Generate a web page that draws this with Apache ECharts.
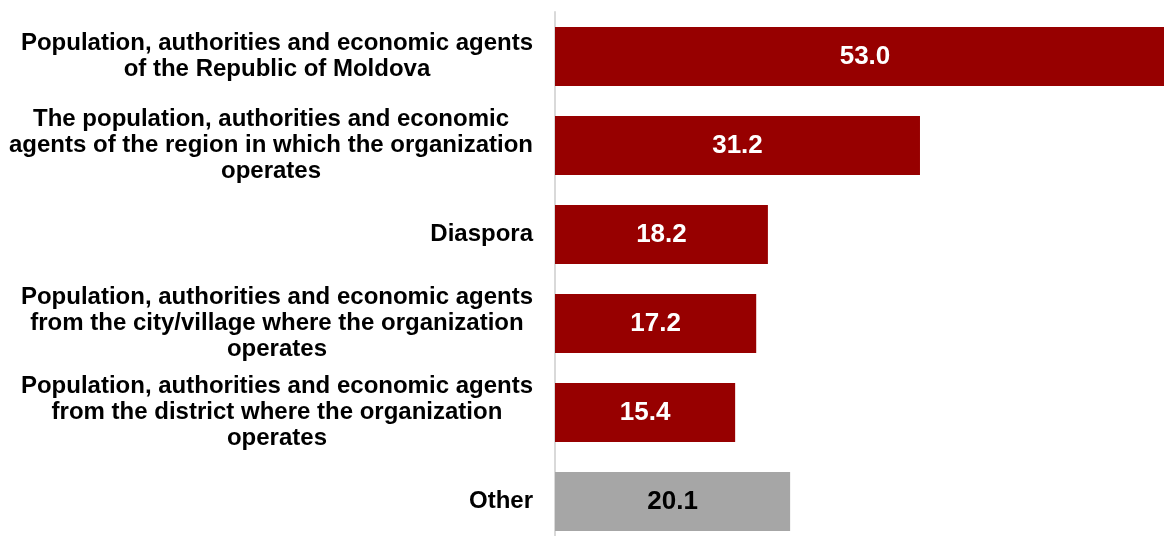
<!DOCTYPE html>
<html>
<head>
<meta charset="utf-8">
<script src="https://cdn.jsdelivr.net/npm/echarts@6/dist/echarts.min.js"></script>
<style>
  html, body { margin: 0; padding: 0; background: #ffffff; overflow: hidden; }
  /* the plot runs slightly past the right and bottom edges of the page */
  #chart { width: 1175px; height: 546px; }
</style>
</head>
<body>
<div id="chart"></div>
<script>
// Beneficiaries of the organizations' activity, % of respondents
const categories = [
  'Population, authorities and economic agents\nof the Republic of Moldova',
  'The population, authorities and economic\nagents of the region in which the organization\noperates',
  'Diaspora',
  'Population, authorities and economic agents\nfrom the city/village where the organization\noperates',
  'Population, authorities and economic agents\nfrom the district where the organization\noperates',
  'Other'
];
const values = [53.0, 31.2, 18.2, 17.2, 15.4, 20.1];
const isOther = [false, false, false, false, false, true];

const RED = '#970000';
const GREY = '#a6a6a6';
const FONT = 'Liberation Sans, Arial, sans-serif';

const chart = echarts.init(document.getElementById('chart'), null, { renderer: 'canvas' });

chart.setOption({
  animation: false,
  backgroundColor: '#ffffff',
  grid: { left: 555, right: 0, top: 12, bottom: 0, containLabel: false },
  xAxis: {
    type: 'value',
    min: 0,
    max: 53,
    show: false
  },
  yAxis: {
    type: 'category',
    inverse: true,
    data: categories,
    axisLine: { show: true, lineStyle: { color: '#d9d9d9', width: 2 } },
    axisTick: { show: false },
    axisLabel: {
      margin: 22,
      align: 'right',
      interval: 0,
      // each line centred within the right-aligned label block
      formatter: function (v) {
        return v.split('\n').map(function (l) { return '{c|' + l + '}'; }).join('\n');
      },
      rich: {
        c: {
          align: 'center',
          fontFamily: FONT,
          fontWeight: 'bold',
          fontSize: 24,
          lineHeight: 26,
          color: '#000000'
        }
      }
    }
  },
  series: [{
    type: 'bar',
    barWidth: 59,
    data: values.map(function (v, i) {
      return {
        value: v,
        itemStyle: { color: isOther[i] ? GREY : RED },
        label: { color: isOther[i] ? '#000000' : '#ffffff' }
      };
    }),
    label: {
      show: true,
      position: 'inside',
      fontFamily: FONT,
      fontWeight: 'bold',
      fontSize: 26,
      formatter: function (p) { return p.value.toFixed(1); }
    }
  }]
});
</script>
</body>
</html>
